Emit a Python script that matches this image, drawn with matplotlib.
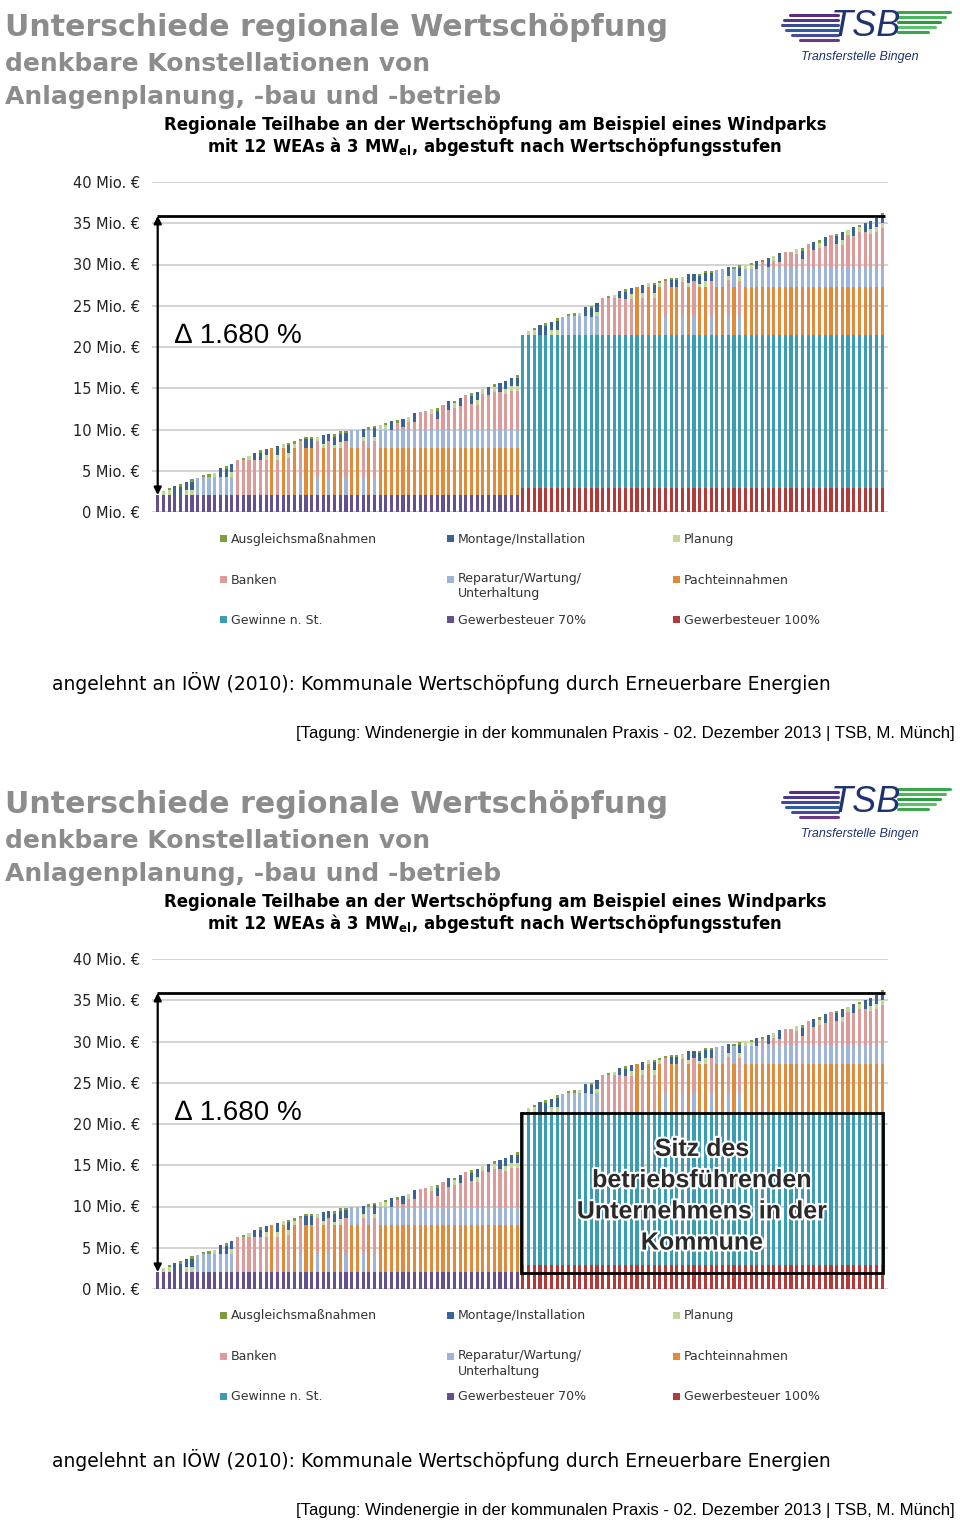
import numpy as np
import matplotlib
matplotlib.use("Agg")
import matplotlib.pyplot as plt
from matplotlib.patches import Rectangle
from matplotlib.lines import Line2D
import matplotlib.patheffects as pe

W, H = 960, 1523

# ---------------- data (Mio. €), 64 bars per half ----------------
# left half: Gewerbesteuer 70 %
gewst70 = 2.05
L_pacht = [0, 0, 0, 0, 0, 0, 0, 0,
           0, 0, 0, 0, 0, 0, 0, 0,
           0, 0, 0, 0, 5.75, 0, 5.75, 0,
           5.75, 0, 5.75, 5.75, 0, 5.75, 0, 5.75,
           5.75, 0, 5.75, 5.75, 0, 5.75, 0, 5.75,
           5.75, 5.75, 5.75, 5.75, 5.75, 5.75, 5.75, 5.75,
           5.75, 5.75, 5.75, 5.75, 5.75, 5.75, 5.75, 5.75,
           5.75, 5.75, 5.75, 5.75, 5.75, 5.75, 5.75, 5.75]
L_rep = [0, 0, 0, 0, 0, 0, 0, 2.1,
         2.2, 2.2, 2.2, 2.2, 2.2, 2.2, 0, 0,
         0, 0, 0, 0, 0, 0, 0, 0,
         0, 2.2, 0, 0, 2.2, 0, 2.2, 0,
         0, 2.2, 2.1, 2.2, 2.2, 2.2, 2.2, 2.2,
         2.2, 2.2, 2.2, 2.2, 2.2, 2.2, 2.2, 2.2,
         2.2, 2.2, 2.2, 2.2, 2.2, 2.2, 2.2, 2.2,
         2.2, 2.2, 2.2, 2.2, 2.2, 2.2, 2.2, 2.2]
L_banken = [0, 0, 0, 0, 0, 0, 0, 0,
            0, 0, 0, 0, 0, 0, 4.3, 4.3,
            4.3, 4.3, 4.3, 4.3, 0, 4.3, 0, 4.45,
            0, 4.3, 0, 0, 4.3, 0, 4.3, 0,
            0, 4.3, 0, 0, 4.3, 0, 4.3, 0,
            0, 0, 0.8, 0.25, 0.95, 0.95, 2.15, 2.2,
            1.85, 1.25, 2.95, 2.4, 2.6, 2.8, 4.2, 3.1,
            3.0, 4.3, 4.2, 4.6, 4.6, 4.3, 4.7, 4.7]
L_planung = [0, 0.45, 0.6, 0, 0, 0.6, 0.6, 0,
             0, 0, 0.45, 0, 0, 0.55, 0, 0,
             0.45, 0, 0, 0.6, 0, 0.6, 0.5, 0.6,
             0.5, 0, 0, 0, 0.6, 0.5, 0, 0.35,
             0.7, 0, 0, 0, 0.55, 0, 0.6, 0.5,
             0.5, 0, 0, 0, 0.6, 0, 0, 0,
             0.6, 0, 0, 0, 0.6, 0, 0, 0,
             0.6, 0.6, 0, 0.6, 0, 0.6, 0.6, 0.6]
L_montage = [0, 0, 0, 1.1, 1.0, 1.0, 1.0, 0,
             0, 0, 0, 1.1, 1.0, 1.0, 0, 0,
             0, 0.85, 0.85, 0.65, 0, 1.0, 0, 1.0,
             0, 0, 1.0, 1.0, 0, 1.0, 0.85, 1.0,
             1.0, 1.0, 0, 0, 1.0, 0, 1.0, 0,
             0, 1.0, 0, 1.0, 0, 1.0, 0, 0,
             0, 1.0, 0, 1.0, 0, 1.0, 0, 1.0,
             1.0, 0, 1.0, 0, 1.0, 1.0, 1.0, 1.0]
L_ausgleich = [0, 0, 0.2, 0, 0.3, 0, 0.3, 0,
               0.25, 0.3, 0, 0, 0.3, 0, 0, 0.25,
               0, 0, 0.3, 0, 0, 0, 0, 0.3,
               0.3, 0.25, 0.25, 0.3, 0, 0, 0, 0.3,
               0.3, 0.3, 0, 0, 0, 0.3, 0.3, 0,
               0.3, 0, 0.3, 0, 0, 0, 0, 0,
               0, 0.3, 0, 0, 0.3, 0, 0, 0.3,
               0, 0, 0, 0.3, 0, 0, 0, 0.3]

# right half: Gewerbesteuer 100 % + Gewinne n. St.
gewst100 = 2.9
gewinne = 18.55
R_pacht = [0, 0, 0, 0, 0, 0, 0, 0,
           0, 0, 0, 0, 0, 0, 0, 0,
           0, 0, 0, 0, 5.8, 0, 5.8, 0,
           5.8, 0, 5.8, 5.8, 0, 5.8, 0, 5.8,
           5.8, 0, 5.8, 5.8, 0, 5.8, 0, 5.8,
           5.8, 5.8, 5.8, 5.8, 5.8, 5.8, 5.8, 5.8,
           5.8, 5.8, 5.8, 5.8, 5.8, 5.8, 5.8, 5.8,
           5.8, 5.8, 5.8, 5.8, 5.8, 5.8, 5.8, 5.8]
R_rep = [0, 0, 0, 0, 0, 0, 0, 2.22,
         2.25, 2.33, 2.26, 2.34, 2.22, 2.3, 0, 0,
         0, 0, 0, 0, 0, 0, 0, 0,
         0, 2.3, 0, 0, 2.3, 0, 2.3, 0,
         0, 2.3, 2.05, 2.2, 2.3, 2.15, 2.3, 2.25,
         2.2, 2.15, 2.3, 2.3, 2.3, 2.3, 2.3, 2.3,
         2.3, 2.3, 2.3, 2.3, 2.3, 2.3, 2.3, 2.3,
         2.3, 2.3, 2.3, 2.3, 2.3, 2.3, 2.3, 2.3]
R_banken = [0, 0, 0, 0, 0, 0, 0, 0,
            0, 0, 0, 0, 0, 0, 4.45, 4.45,
            4.45, 4.45, 4.4, 4.4, 0, 4.45, 0, 4.45,
            0, 4.3, 0, 0, 4.15, 0, 4.2, 0,
            0, 4.2, 0, 0, 4.35, 0, 4.25, 0,
            0, 0, 0.7, 0.2, 0.9, 0.8, 2.0, 2.0,
            1.7, 1.1, 2.9, 2.2, 2.5, 2.75, 4.05, 2.9,
            2.85, 4.05, 3.95, 4.35, 4.45, 4.15, 4.45, 4.85]
R_planung = [0, 0.53, 0.6, 0, 0, 0.6, 0.6, 0,
             0, 0, 0.45, 0, 0, 0.55, 0, 0,
             0.45, 0, 0, 0.6, 0, 0.6, 0.45, 0.6,
             0.45, 0, 0, 0, 0.6, 0.55, 0, 0.35,
             0.7, 0, 0, 0, 0.55, 0, 0.6, 0.5,
             0.45, 0, 0, 0, 0.6, 0, 0, 0,
             0.6, 0, 0, 0, 0.6, 0, 0, 0,
             0.6, 0.6, 0, 0.6, 0, 0.6, 0.6, 0.6]
R_montage = [0, 0, 0, 1.22, 1.1, 1.02, 1.1, 0,
             0, 0, 0, 1.1, 1.0, 1.0, 0, 0,
             0, 0.85, 0.85, 0.65, 0, 1.0, 0, 1.0,
             0, 0, 0.9, 0.85, 0, 1.0, 0.85, 1.0,
             1.0, 1.0, 0, 0, 1.0, 0, 1.0, 0,
             0, 1.0, 0, 1.0, 0, 1.0, 0, 0,
             0, 1.0, 0, 1.0, 0, 1.0, 0, 1.0,
             1.0, 0, 1.0, 0, 1.0, 1.0, 1.0, 1.0]
R_ausgleich = [0, 0, 0.21, 0, 0.32, 0, 0.32, 0,
               0.3, 0.3, 0, 0, 0.3, 0, 0, 0.25,
               0, 0, 0.3, 0, 0, 0, 0, 0.3,
               0.3, 0.25, 0.25, 0.3, 0, 0, 0, 0.3,
               0.3, 0.3, 0, 0, 0, 0.3, 0.3, 0,
               0.3, 0, 0.3, 0, 0, 0, 0, 0,
               0, 0.3, 0, 0, 0.3, 0, 0, 0.3,
               0, 0, 0, 0.3, 0, 0, 0, 0.3]

y_ticks = [0, 5, 10, 15, 20, 25, 30, 35, 40]
y_tick_labels = ["0 Mio. €", "5 Mio. €", "10 Mio. €", "15 Mio. €", "20 Mio. €",
                 "25 Mio. €", "30 Mio. €", "35 Mio. €", "40 Mio. €"]

legend_labels = ["Ausgleichsmaßnahmen", "Montage/Installation", "Planung",
                 "Banken", "Reparatur/Wartung/\nUnterhaltung", "Pachteinnahmen",
                 "Gewinne n. St.", "Gewerbesteuer 70%", "Gewerbesteuer 100%"]

delta_label = "∆ 1.680 %"
annot_top = 35.9

# ---------------- colours ----------------
c_aus = "#7e9e3e"
c_mon = "#3a6496"
c_pla = "#c4d79b"
c_ban = "#dc9a98"
c_rep = "#9db5d8"
c_pac = "#e08a3c"
c_gew = "#3a9db2"
c_g70 = "#64508c"
c_g100 = "#b33a38"
legend_colors = [c_aus, c_mon, c_pla, c_ban, c_rep, c_pac, c_gew, c_g70, c_g100]

fig = plt.figure(figsize=(W / 100, H / 100), dpi=100)


def ftxt(x, y, s, **kw):
    return fig.text(x / W, 1 - y / H, s, **kw)


def fline(xs, ys, **kw):
    fig.add_artist(Line2D([x / W for x in xs], [1 - y / H for y in ys],
                          transform=fig.transFigure, **kw))


def frect(x, y, w, h, **kw):
    fig.add_artist(Rectangle((x / W, 1 - (y + h) / H), w / W, h / H,
                             transform=fig.transFigure, **kw))


def layers():
    n = len(L_pacht)
    z = [0.0] * n
    return [
        ([gewst70] * n + z, c_g70),
        (z + [gewst100] * n, c_g100),
        (z + [gewinne] * n, c_gew),
        (L_pacht + R_pacht, c_pac),
        (L_rep + R_rep, c_rep),
        (L_banken + R_banken, c_ban),
        (L_planung + R_planung, c_pla),
        (L_montage + R_montage, c_mon),
        (L_ausgleich + R_ausgleich, c_aus),
    ]


def panel(off, with_box=False):
    gray = "#8c8c8c"
    ftxt(5, off + 36, "Unterschiede regionale Wertschöpfung", fontsize=21.6,
         fontweight="bold", color=gray, va="baseline", ha="left")
    ftxt(5, off + 71, "denkbare Konstellationen von", fontsize=18,
         fontweight="bold", color=gray, va="baseline", ha="left")
    ftxt(5, off + 104, "Anlagenplanung, -bau und -betrieb", fontsize=18,
         fontweight="bold", color=gray, va="baseline", ha="left")
    ftxt(495, off + 130, "Regionale Teilhabe an der Wertschöpfung am Beispiel eines Windparks",
         fontsize=11.9, fontweight="bold", color="black", va="baseline", ha="center")
    ftxt(494, off + 152, r"mit 12 WEAs à 3 MW$_{\mathbf{el}}$, abgestuft nach Wertschöpfungsstufen",
         fontsize=11.9, fontweight="bold", color="black", va="baseline", ha="center")

    # ---- logo ----
    lcols = ["#5a2d82", "#4b3a8c", "#3d4a98", "#2f5aa4", "#4a4a9a", "#6a3a8a"]
    for k, (yy, x0) in enumerate(zip([15, 20, 25, 30, 35, 40], [790, 784, 782, 786, 792, 800])):
        fline([x0, 838], [off + yy, off + yy], color=lcols[k], lw=2.2, solid_capstyle="round")
    gcols = ["#3aa84a", "#4ab85a", "#2e9a40", "#5ac46a", "#3aa84a"]
    for k, (yy, x1) in enumerate(zip([12, 17, 22, 27, 32], [950, 945, 940, 935, 928])):
        fline([898, x1], [off + yy, off + yy], color=gcols[k], lw=2.2, solid_capstyle="round")
    ftxt(866, off + 26, "TSB", fontsize=26, style="italic", color="#1d3372",
         va="center", ha="center", family=["Liberation Sans", "DejaVu Sans"])
    ftxt(860, off + 57, "Transferstelle Bingen", fontsize=9, style="italic",
         color="#1d3372", va="center", ha="center", family=["Liberation Sans", "DejaVu Sans"])

    # ---- chart ----
    ax = fig.add_axes([152 / W, 1 - (off + 512) / H, 736 / W, 330 / H])
    x = np.arange(2 * len(L_pacht))
    bottom = np.zeros(len(x))
    for vals, col in layers():
        vals = np.asarray(vals, dtype=float)
        ax.bar(x, vals, bottom=bottom, width=0.55, color=col, linewidth=0, zorder=2)
        bottom = bottom + vals
    ax.set_xlim(-1, 128)
    ax.set_ylim(0, 40)
    ax.set_yticks(y_ticks)
    ax.set_yticklabels(y_tick_labels, fontsize=10.5, color="#222222")
    ax.tick_params(axis="y", length=0, pad=8.6)
    ax.set_xticks([])
    for s in ax.spines.values():
        s.set_visible(False)
    ax.yaxis.grid(True, color="#c8c8c8", lw=1.1, zorder=0)
    ax.set_axisbelow(True)

    # annotation
    ax.plot([-0.2, 127.4], [annot_top, annot_top], color="black", lw=2, zorder=5,
            solid_capstyle="butt")
    ax.annotate("", xy=(0, gewst70), xytext=(0, annot_top),
                arrowprops=dict(arrowstyle="<|-|>", color="black", lw=1.6,
                                mutation_scale=11, shrinkA=0, shrinkB=0), zorder=6)
    ftxt(175, off + 343, delta_label, fontsize=20, color="black", va="baseline", ha="left",
         family=["Liberation Sans", "DejaVu Sans"])

    if with_box:
        ax.add_patch(Rectangle((63.6, 1.95), 63.6, 19.4, fill=False, ec="black",
                               lw=2, zorder=7))
        t = ax.text(95.4, 11.3, "Sitz des\nbetriebsführenden\nUnternehmens in der\nKommune",
                    ha="center", va="center", fontsize=18, fontweight="bold",
                    color="#2a2a2a", linespacing=1.38, zorder=8,
                    family=["Liberation Sans", "DejaVu Sans"])
        t.set_path_effects([pe.withStroke(linewidth=3, foreground="white")])

    # ---- legend ----
    cols_x = [220, 447, 673]
    rows_y = [539, 580, 620]
    for k, (lab, col) in enumerate(zip(legend_labels, legend_colors)):
        cx = cols_x[k % 3]
        ry = rows_y[k // 3]
        frect(cx, off + ry - 4, 7, 7, color=col, lw=0)
        if "\n" in lab:
            ftxt(cx + 11, off + ry - 8, lab, fontsize=9, color="#333333", va="top",
                 ha="left", linespacing=1.25)
        else:
            ftxt(cx + 11, off + ry, lab, fontsize=9, color="#333333", va="center", ha="left")

    # ---- source & footer ----
    ftxt(52, off + 683, "angelehnt an IÖW (2010): Kommunale Wertschöpfung durch Erneuerbare Energien",
         fontsize=13.5, color="black", va="center", ha="left")
    ftxt(955, off + 734, "[Tagung: Windenergie in der kommunalen Praxis - 02. Dezember 2013 | TSB, M. Münch]",
         fontsize=12.1, color="black", va="center", ha="right",
         family=["Liberation Sans", "DejaVu Sans"])


panel(0, with_box=False)
panel(777, with_box=True)

fig.savefig("out.png", dpi=100)
